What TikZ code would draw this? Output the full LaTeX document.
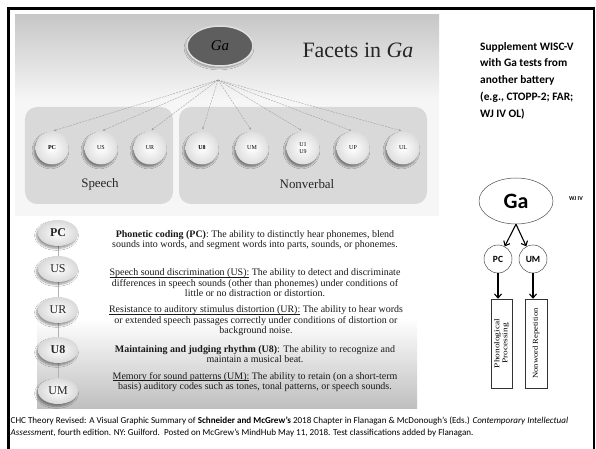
\documentclass[tikz,border=0pt]{standalone}
\usepackage{fontspec}
\setmainfont{Liberation Serif}
\newfontfamily\calibri{Carlito}
\usetikzlibrary{shapes.geometric, arrows.meta, shadows.blur}

\definecolor{panelbg}{HTML}{F6F6F6}
\definecolor{groupfill}{HTML}{D9D9D9}
\definecolor{gadark}{HTML}{5E5E5E}

% underline sitting close to the baseline
\newcommand\termline[1]{\setbox0\hbox{#1}\rlap{\rule[-1.4pt]{\wd0}{0.45pt}}\box0\relax}

\tikzset{
  groupbox/.style={rectangle, rounded corners=12bp, fill=groupfill, inner sep=0pt},
  grouplabel/.style={font=\fontsize{13}{15}\selectfont, text=black!85},
  facet/.style={circle, minimum size=33bp, inner sep=0pt, inner color=white, outer color=black!13,
    blur shadow={shadow xshift=-1.5pt, shadow yshift=-2.5pt, shadow opacity=45, shadow blur steps=6},
    font=\fontsize{6}{6.5}\selectfont, align=center},
  facetlink/.style={black!40, line width=0.35pt, dash pattern=on 2pt off 1pt,
    -{Stealth[length=2.2pt,width=2pt]}, shorten >=2bp},
  tab/.style={ellipse, minimum width=40bp, minimum height=26bp, inner sep=0pt, inner color=white, outer color=black!15,
    blur shadow={shadow xshift=-1.5pt, shadow yshift=-2.5pt, shadow opacity=40, shadow blur steps=6},
    font=\fontsize{12}{12}\selectfont, text=black!85},
  desc/.style={align=center, font=\fontsize{10}{10.6}\selectfont, text=black!90},
  bigga/.style={ellipse, draw=black!70, line width=0.5pt, minimum width=74bp, minimum height=46bp, inner sep=0pt,
    font=\calibri\bfseries\fontsize{22}{22}\selectfont},
  smallc/.style={circle, draw=black!70, line width=0.5pt, minimum size=28bp, inner sep=0pt,
    font=\calibri\bfseries\fontsize{9.5}{10}\selectfont},
  testbox/.style={rectangle, draw=black!80, line width=0.5pt, fill=white, minimum width=21bp, minimum height=89bp, inner sep=0pt},
  testtext/.style={rotate=90, align=center, font=\fontsize{7.5}{8}\selectfont},
  thickarrow/.style={line width=1.1pt, -{Straight Barb[length=4pt,width=7pt,line width=1.1pt]}},
}

\begin{document}
\begin{tikzpicture}[x=1bp, y=-1bp]
\useasboundingbox (0,0) rectangle (596,449);
\fill[white] (0,0) rectangle (596,449);

% slide frame
\draw[line width=3bp] (8.5,470) -- (8.5,8.5) -- (594,8.5);
\draw[line width=2bp] (593.5,7) -- (593.5,470);

% upper panel with its grey-to-white gradient
\fill[panelbg] (15,15) rectangle (439,216);
\shade[top color=black!22, bottom color=panelbg] (15,15) rectangle (439,100);

% group boxes
\node[groupbox, minimum width=148bp, minimum height=97bp] (speechbox) at (99,155.5) {};
\node[groupbox, minimum width=248bp, minimum height=97bp] (nonverbalbox) at (303,155.5) {};
\node[grouplabel] (speechlbl) at (100,184) {Speech};
\node[grouplabel] (nonverballbl) at (307,184) {Nonverbal};

% Ga broad ability
\node[ellipse, minimum width=66bp, minimum height=40bp, fill=gadark, draw=black!12, line width=1.5pt,
  blur shadow={shadow xshift=-1pt, shadow yshift=-2pt, shadow opacity=35, shadow blur steps=6},
  font=\itshape\fontsize{15}{15}\selectfont] (ga) at (220,46) {Ga};
\node[font=\fontsize{22}{22}\selectfont, text=black!85, anchor=west] (title) at (299,50) {Facets in \textit{Ga}};
\coordinate (hub) at (218,80);

% narrow abilities
\node[facet] (pc) at (52,148) {\textbf{PC}};
\node[facet] (us) at (101,148) {US};
\node[facet] (ur) at (150,148) {UR};
\node[facet] (ueight) at (202,148) {\textbf{U8}};
\node[facet] (um) at (252,148) {UM};
\node[facet] (uone) at (303,148) {U1\\U9};
\node[facet] (up) at (353,148) {UP};
\node[facet] (ul) at (403,148) {UL};
\foreach \n in {pc,us,ur,ueight,um,uone,up,ul}
  \draw[facetlink] (hub) -- (\n.north);

% lower panel with definitions
\fill[white] (37,217) rectangle (417,408);
\shade[top color=white, bottom color=black!25] (37,318) rectangle (417,408);

\draw[black!30, line width=0.6pt] (58,233) -- (58,391);
\node[tab] (tpc) at (58,233) {\textbf{PC}};
\node[tab] (tus) at (58,269) {US};
\node[tab] (tur) at (58,310) {UR};
\node[tab] (tueight) at (58,350) {\textbf{U8}};
\node[tab] (tum) at (58,391) {UM};

\node[desc] (dpc) at (255,240) {\textbf{Phonetic coding (PC)}: The ability to distinctly hear phonemes, blend\\sounds into words, and segment words into parts, sounds, or phonemes.};
\node[desc] (dus) at (255,283) {\termline{Speech sound discrimination (US):}\ The ability to detect and discriminate\\differences in speech sounds (other than phonemes) under conditions of\\little or no distraction or distortion.};
\node[desc] (dur) at (256,321) {\termline{Resistance to auditory stimulus distortion (UR):}\ The ability to hear words\\or extended speech passages correctly under conditions of distortion or\\background noise.};
\node[desc] (dueight) at (255,354) {\textbf{Maintaining and judging rhythm (U8)}: The ability to recognize and\\maintain a musical beat.};
\node[desc] (dum) at (255,382) {\termline{Memory for sound patterns (UM):}\ The ability to retain (on a short-term\\basis) auditory codes such as tones, tonal patterns, or speech sounds.};

% supplementary battery note
\node[anchor=north west, align=left, inner sep=0pt, font=\calibri\bfseries\fontsize{11.4}{16.8}\selectfont] (note) at (480,42)
  {Supplement WISC-V\\with Ga tests from\\another battery\\(e.g., CTOPP-2; FAR;\\WJ IV OL)};

% WJ IV test classification
\node[bigga] (gawj) at (516,201) {Ga};
\node[font=\calibri\bfseries\fontsize{6}{6}\selectfont] (wjiv) at (576,199) {WJ IV};
\node[smallc] (pcr) at (498,259) {PC};
\node[smallc] (umr) at (533,259) {UM};
\node[testbox] (phon) at (501.5,343.5) {};
\node[testbox, minimum width=22bp] (nwr) at (536,343.5) {};
\node[testtext] (phontxt) at (phon) {\scalebox{1.25}[1]{Phonological}\\\scalebox{1.25}[1]{Processing}};
\node[testtext] (nwrtxt) at (nwr) {\scalebox{1.15}[1]{Nonword Repetition}};
\draw[thickarrow] (gawj.south) -- (pcr.62);
\draw[thickarrow] (gawj.south) -- (umr.118);
\draw[thickarrow] (pcr.south) -- (pcr.south |- phon.north);
\draw[thickarrow] (umr.south) -- (umr.south |- nwr.north);

% source line
\node[anchor=base west, align=left, inner sep=0pt, font=\calibri\fontsize{9.1}{11.5}\selectfont] (source) at (10.5,435)
  {CHC Theory Revised: A Visual Graphic Summary of \textbf{Schneider and McGrew’s} 2018 Chapter in Flanagan \& McDonough’s (Eds.) \textit{Contemporary Intellectual}\\\textit{Assessment}, fourth edition. NY: Guilford.\ \ Posted on McGrew’s MindHub May 11, 2018. Test classifications added by Flanagan.};
\end{tikzpicture}
\end{document}
